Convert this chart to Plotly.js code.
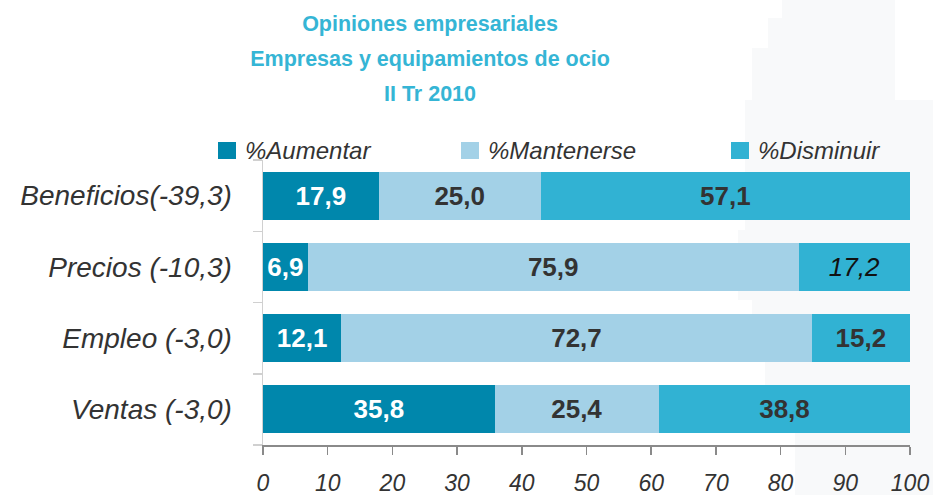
<!DOCTYPE html>
<html>
<head>
<meta charset="utf-8">
<script src="https://cdn.plot.ly/plotly-3.0.1.min.js"></script>
<style>html,body{margin:0;padding:0;background:#fff;}#chart{width:933px;height:495px;}</style>
</head>
<body>
<div id="chart"></div>
<script>
// ---- data ----
var categories = ["Beneficios(-39,3)", "Precios (-10,3)", "Empleo (-3,0)", "Ventas (-3,0)"];
var seriesNames = ["%Aumentar", "%Mantenerse", "%Disminuir"];
var aumentar   = [17.9, 6.9, 12.1, 35.8];
var mantenerse = [25.0, 75.9, 72.7, 25.4];
var disminuir  = [57.1, 17.2, 15.2, 38.8];
var xTicks = [0, 10, 20, 30, 40, 50, 60, 70, 80, 90, 100];

var colors = ["#0087ac", "#a3d1e7", "#31b2d3"];
var FONT = "Liberation Sans, Arial, Helvetica, sans-serif";

function fmt(v){ return v.toFixed(1).replace('.', ','); }

function labels(vals, italicIdx){
  return vals.map(function(v, i){
    return (italicIdx !== undefined && i === italicIdx) ? '<i>' + fmt(v) + '</i>' : '<b>' + fmt(v) + '</b>';
  });
}

var seriesVals = [aumentar, mantenerse, disminuir];
var textColors = ["#ffffff", "#333333", "#333333"];
var traces = seriesVals.map(function(vals, k){
  var txt = labels(vals, k === 2 ? 1 : undefined);
  var tcol = vals.map(function(v, i){ return (k === 2 && i === 1) ? '#111111' : textColors[k]; });
  return {
    type: 'bar',
    orientation: 'h',
    name: seriesNames[k],
    y: categories,
    x: vals,
    marker: {color: colors[k], line: {width: 0}},
    text: txt,
    textposition: 'inside',
    insidetextanchor: 'middle',
    textangle: 0,
    constraintext: 'none',
    textfont: {family: FONT, size: 26, color: tcol},
    hoverinfo: 'x+y+name',
    showlegend: false
  };
});

// custom legend (squares + texts) placed in paper coordinates
var L = 263, R = 23, T = 160, B = 50, W = 933, H = 495;
var pw = W - L - R, ph = H - T - B;
function px(x){ return (x - L) / pw; }
function py(y){ return (H - B - y) / ph; }

// faint background watermark (decoration)
var wm = [[782,0],[782,18],[768,18],[768,48],[752,48],[752,100],[745,100],[745,230],[738,230],[738,300],[752,300],[752,330],[765,330],[765,420],[795,420],[795,495],[933,495],[933,100],[895,100],[895,0]];
var wmPath = wm.map(function(p, i){ return (i ? 'L' : 'M') + px(p[0]) + ',' + py(p[1]); }).join('') + 'Z';
var shapes = [{type: 'path', xref: 'paper', yref: 'paper', path: wmPath, fillcolor: '#f8f9fa', line: {width: 0}, layer: 'below'}];
var annotations = [];

var legendX = [218, 461, 731];
legendX.forEach(function(lx, k){
  shapes.push({type: 'rect', xref: 'paper', yref: 'paper',
    x0: px(lx), x1: px(lx + 18), y0: py(159), y1: py(142),
    fillcolor: colors[k], line: {width: 0}});
  annotations.push({xref: 'paper', yref: 'paper', x: px(lx + 25), y: py(151),
    xanchor: 'left', yanchor: 'middle', showarrow: false,
    text: '<i>' + seriesNames[k] + '</i>',
    font: {family: FONT, size: 24, color: '#333333'}});
});

var s = "<span style='font-size:21.5px'>";
var layout = {
  width: W, height: H,
  margin: {l: L, r: R, t: T, b: B, pad: 0},
  paper_bgcolor: '#ffffff',
  plot_bgcolor: 'rgba(0,0,0,0)',
  barmode: 'stack',
  bargap: 0.326,
  title: {
    text: s + "<b>Opiniones empresariales</b></span><br>" + s + "<b>Empresas y equipamientos de ocio</b></span><br>" + s + "<b>II Tr 2010</b></span>",
    font: {family: FONT, size: 27, color: '#35b5d5'},
    x: 430 / W, xanchor: 'center', xref: 'container',
    y: 1 - 31 / H, yanchor: 'top', yref: 'container'
  },
  xaxis: {
    range: [0, 100],
    tickvals: xTicks,
    ticktext: xTicks.map(function(t){ return '<i>' + t + '</i>'; }),
    showgrid: false, zeroline: false,
    showline: true, linecolor: '#8a8a8a', linewidth: 1.5,
    ticks: 'outside', ticklen: 8, tickcolor: '#8a8a8a', tickwidth: 1.5,
    ticklabelstandoff: 9,
    tickfont: {family: FONT, size: 23, color: '#333333'},
    fixedrange: true
  },
  yaxis: {
    type: 'category',
    categoryorder: 'array', categoryarray: categories,
    autorange: 'reversed',
    ticktext: categories.map(function(c){ return '<i>' + c + '</i>'; }),
    tickvals: categories,
    showgrid: false, zeroline: false,
    showline: true, linecolor: '#d0d0d0', linewidth: 1.5,
    ticks: 'outside', tickson: 'boundaries', ticklen: 9, tickcolor: '#d0d0d0', tickwidth: 1.5,
    ticklabelstandoff: 24,
    tickfont: {family: FONT, size: 28, color: '#333333'},
    fixedrange: true
  },
  shapes: shapes,
  annotations: annotations,
  showlegend: false
};

Plotly.newPlot('chart', traces, layout, {displayModeBar: false, staticPlot: true});
</script>
</body>
</html>
